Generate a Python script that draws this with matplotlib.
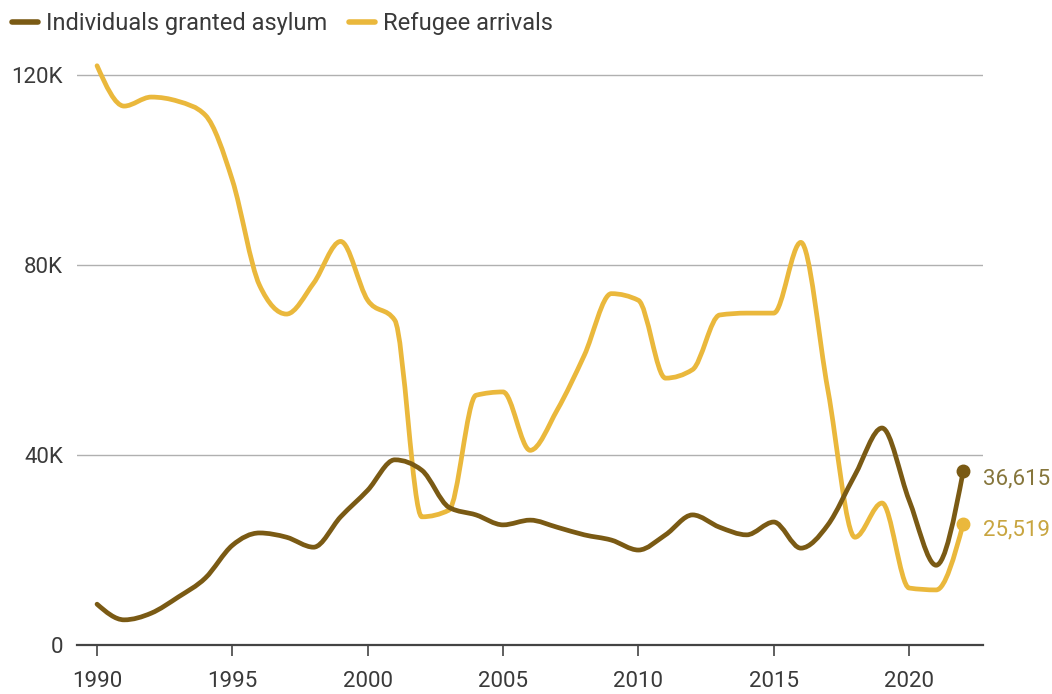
import matplotlib
matplotlib.use("Agg")
import matplotlib.pyplot as plt
import numpy as np
from matplotlib.path import Path
from matplotlib.patches import PathPatch
from matplotlib.lines import Line2D

plt.rcParams['font.family'] = ['Roboto', 'DejaVu Sans']

years = np.arange(1990, 2023)

asylum = [8.6, 5.3, 6.7, 10.1, 14.1, 21.0, 23.6, 22.7, 20.6, 27.0,
          32.6, 39.0, 36.8, 29.0, 27.4, 25.3, 26.3, 24.8, 23.2, 22.1,
          20.0, 23.2, 27.4, 24.8, 23.2, 25.9, 20.4, 25.3, 35.8, 45.7,
          30.5, 16.8, 36.615]

refugees = [122.0, 113.5, 115.4, 114.5, 111.6, 97.9, 75.8, 69.7, 76.2, 85.0,
            72.6, 68.4, 27.0, 28.4, 52.6, 53.3, 41.0, 49.5, 61.0, 74.0,
            72.6, 56.2, 58.0, 69.5, 69.9, 69.9, 84.8, 53.7, 22.7, 29.9,
            12.0, 11.6, 25.519]

DARK = '#7a5a14'
GOLD = '#eab83c'


def monotone_path(x, y):
    # d3 curveMonotoneX style bezier path through the points
    x = np.asarray(x, float)
    y = np.asarray(y, float)
    n = len(x)
    t = np.zeros(n)
    for i in range(1, n - 1):
        h0 = x[i] - x[i - 1]
        h1 = x[i + 1] - x[i]
        s0 = (y[i] - y[i - 1]) / h0
        s1 = (y[i + 1] - y[i]) / h1
        p = (s0 * h1 + s1 * h0) / (h0 + h1)
        t[i] = (np.sign(s0) + np.sign(s1)) * min(abs(s0), abs(s1), 0.5 * abs(p))
    h = x[1] - x[0]
    t[0] = (3 * (y[1] - y[0]) / h - t[1]) / 2
    h = x[-1] - x[-2]
    t[-1] = (3 * (y[-1] - y[-2]) / h - t[-2]) / 2
    verts = [(x[0], y[0])]
    codes = [Path.MOVETO]
    for i in range(n - 1):
        dx = (x[i + 1] - x[i]) / 3
        verts += [(x[i] + dx, y[i] + dx * t[i]),
                  (x[i + 1] - dx, y[i + 1] - dx * t[i + 1]),
                  (x[i + 1], y[i + 1])]
        codes += [Path.CURVE4] * 3
    return Path(verts, codes)


fig = plt.figure(figsize=(10.52, 6.94), dpi=100)
ax = fig.add_axes([0.0732, 0.0706, 0.8612, 0.8429])

for vals, col in [(refugees, GOLD), (asylum, DARK)]:
    v = np.array(vals) * 1000
    ax.add_patch(PathPatch(monotone_path(years, v), facecolor='none',
                           edgecolor=col, lw=3.4, capstyle='round',
                           joinstyle='round', zorder=3))
    ax.plot(years[-1], v[-1], 'o', color=col, ms=9, zorder=4)

ax.annotate(f"{int(round(asylum[-1] * 1000)):,}", (years[-1], asylum[-1] * 1000),
            xytext=(20, -8), textcoords='offset pixels', va='center', ha='left',
            fontsize=16, color='#86763c', annotation_clip=False)
ax.annotate(f"{int(round(refugees[-1] * 1000)):,}", (years[-1], refugees[-1] * 1000),
            xytext=(20, -6), textcoords='offset pixels', va='center', ha='left',
            fontsize=16, color='#c8a540', annotation_clip=False)

ax.set_xlim(1989.26, 2022.73)
ax.set_ylim(0, 123200)
ax.set_xticks(np.arange(1990, 2021, 5))
ax.set_yticks([0, 40000, 80000, 120000])
ax.set_yticklabels(['0', '40K', '80K', '120K'])
ax.yaxis.grid(True, color='#b0b0b0', lw=1)
ax.set_axisbelow(True)
for s in ['top', 'right', 'left']:
    ax.spines[s].set_visible(False)
ax.spines['bottom'].set_color('#444444')
ax.spines['bottom'].set_linewidth(1.6)
ax.spines['bottom'].set_zorder(5)
ax.tick_params(axis='x', length=8, width=1.2, color='#444444', pad=11,
               labelsize=16, labelcolor='#3a3a3a')
ax.tick_params(axis='y', length=0, pad=10, labelsize=16, labelcolor='#3a3a3a')

handles = [Line2D([], [], color=DARK, lw=4, solid_capstyle='round'),
           Line2D([], [], color=GOLD, lw=4, solid_capstyle='round')]
fig.legend(handles, ['Individuals granted asylum', 'Refugee arrivals'],
           loc='upper left', bbox_to_anchor=(0.0, 1.0), borderaxespad=0.0,
           borderpad=0.5, ncol=2, frameon=False, fontsize=17,
           handlelength=1.1, handletextpad=0.35, columnspacing=0.9,
           labelcolor='#3a3a3a')

fig.savefig('out.png', dpi=100)
